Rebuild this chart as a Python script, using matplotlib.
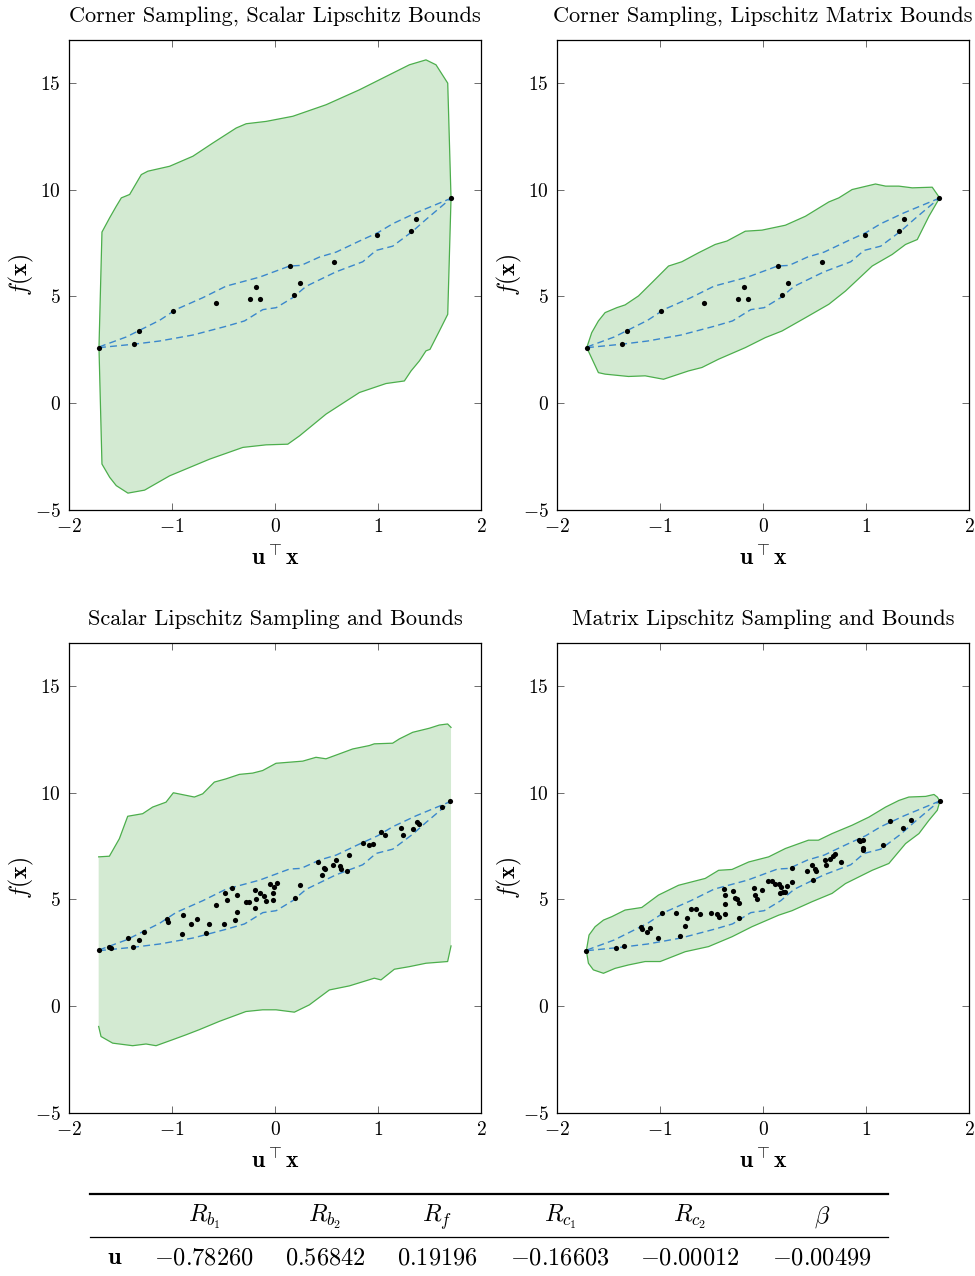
import matplotlib
matplotlib.use("Agg")
import matplotlib.pyplot as plt
import numpy as np

plt.rcParams['font.family'] = ['cmr10', 'DejaVu Serif']
plt.rcParams['mathtext.fontset'] = 'cm'
plt.rcParams['axes.formatter.use_mathtext'] = True

# corner samples (shared by both top panels)
corner_x = [-1.709, -1.373, -1.324, -0.991, -0.571, -0.241, -0.186, -0.144,
            0.141, 0.186, 0.238, 0.571, 0.991, 1.321, 1.373, 1.709]
corner_y = [2.60, 2.76, 3.36, 4.33, 4.70, 4.86, 5.45, 4.89,
            6.42, 5.05, 5.64, 6.60, 7.88, 8.04, 8.63, 9.59]

# true function envelope (dashed)
env_up_x = [-1.709, -1.444, -1.120, -0.959, -0.700, -0.474, -0.150, 0.141, 0.254,
            0.432, 0.593, 0.820, 0.998, 1.143, 1.369, 1.709]
env_up_y = [2.63, 3.10, 3.88, 4.39, 4.94, 5.48, 5.90, 6.42, 6.45,
            6.84, 7.07, 7.59, 7.98, 8.40, 8.91, 9.59]
env_lo_x = [-1.709, -1.373, -1.120, -0.797, -0.474, -0.296, -0.118, 0.011, 0.173,
            0.302, 0.593, 0.852, 0.981, 1.143, 1.337, 1.466, 1.709]
env_lo_y = [2.60, 2.76, 2.91, 3.19, 3.60, 3.85, 4.38, 4.47, 4.94,
            5.47, 6.15, 6.62, 7.15, 7.35, 8.05, 8.60, 9.59]

# panel 1: corner sampling, scalar Lipschitz bounds
p1_up_x = [-1.709, -1.680, -1.605, -1.541, -1.492, -1.411, -1.298, -1.234, -1.023, -0.797,
           -0.603, -0.377, -0.280, -0.086, 0.173, 0.496, 0.820, 1.143, 1.305, 1.466,
           1.563, 1.677, 1.709]
p1_up_y = [2.60, 8.01, 8.68, 9.22, 9.61, 9.77, 10.70, 10.86, 11.09, 11.56,
           12.18, 12.88, 13.08, 13.19, 13.43, 13.97, 14.67, 15.45, 15.84, 16.07,
           15.84, 14.98, 9.59]
p1_lo_x = [-1.709, -1.680, -1.605, -1.541, -1.428, -1.266, -1.023, -0.635, -0.312, -0.086,
           0.124, 0.238, 0.496, 0.820, 1.078, 1.256, 1.321, 1.402, 1.466, 1.505,
           1.596, 1.677, 1.709]
p1_lo_y = [2.60, -2.85, -3.47, -3.86, -4.21, -4.07, -3.40, -2.62, -2.07, -1.95,
           -1.92, -1.53, -0.51, 0.50, 0.92, 1.04, 1.51, 1.98, 2.45, 2.52,
           3.38, 4.16, 9.59]

# panel 2: corner sampling, Lipschitz matrix bounds
p2_up_x = [-1.711, -1.663, -1.598, -1.533, -1.420, -1.339, -1.209, -1.079, -0.917, -0.788,
           -0.626, -0.464, -0.350, -0.172, -0.010, 0.217, 0.412, 0.639, 0.736, 0.865,
           1.092, 1.190, 1.319, 1.449, 1.643, 1.715]
p2_up_y = [2.60, 3.30, 3.85, 4.24, 4.47, 4.60, 5.02, 5.64, 6.42, 6.62,
           7.04, 7.43, 7.59, 8.05, 8.10, 8.33, 8.75, 9.42, 9.61, 10.00,
           10.26, 10.16, 10.16, 10.08, 10.11, 9.61]
p2_lo_x = [-1.711, -1.598, -1.533, -1.306, -1.144, -0.966, -0.723, -0.593, -0.431, -0.172,
           0.023, 0.185, 0.412, 0.639, 0.801, 1.060, 1.254, 1.384, 1.498, 1.611, 1.715]
p2_lo_y = [2.60, 1.43, 1.36, 1.25, 1.28, 1.12, 1.51, 1.67, 2.06, 2.60,
           3.07, 3.38, 4.00, 4.63, 5.25, 6.42, 6.96, 7.43, 7.66, 8.75, 9.61]

# panel 3: scalar Lipschitz sampling
s3_x = [-1.706, -1.608, -1.592, -1.424, -1.382, -1.317, -1.269, -1.052, -1.042, -0.890,
        -0.903, -0.816, -0.757, -0.670, -0.644, -0.573, -0.498, -0.485, -0.469, -0.421,
        -0.372, -0.385, -0.369, -0.282, -0.249, -0.194, -0.191, -0.184, -0.142, -0.104,
        -0.087, -0.049, -0.023, -0.016, -0.006, 0.016, 0.191, 0.243, 0.414, 0.456,
        0.472, 0.489, 0.566, 0.592, 0.631, 0.644, 0.702, 0.715, 0.851, 0.916,
        0.948, 1.029, 1.071, 1.223, 1.239, 1.343, 1.379, 1.401, 1.621, 1.702]
s3_y = [2.63, 2.79, 2.71, 3.17, 2.79, 3.10, 3.49, 4.06, 3.95, 4.26,
        3.36, 3.83, 4.08, 3.44, 3.86, 4.72, 3.86, 5.28, 4.96, 5.51,
        5.20, 4.03, 4.42, 4.89, 4.89, 5.46, 4.61, 5.00, 5.28, 5.15,
        4.92, 5.71, 4.96, 5.28, 5.56, 5.77, 5.07, 5.66, 6.75, 6.16,
        6.47, 6.40, 6.60, 6.86, 6.58, 6.40, 6.33, 7.10, 7.66, 7.53,
        7.61, 8.15, 8.00, 8.36, 8.00, 8.29, 8.62, 8.51, 9.32, 9.60]
p3_up_x = [-1.712, -1.608, -1.511, -1.430, -1.285, -1.188, -1.058, -0.987, -0.783, -0.702,
           -0.589, -0.476, -0.346, -0.217, -0.120, 0.010, 0.269, 0.398, 0.495, 0.625,
           0.754, 0.916, 0.964, 1.142, 1.207, 1.337, 1.498, 1.595, 1.676, 1.709]
p3_up_y = [6.99, 7.02, 7.84, 8.89, 9.01, 9.32, 9.55, 9.99, 9.79, 9.94,
           10.49, 10.64, 10.85, 10.91, 11.03, 11.37, 11.47, 11.65, 11.58, 11.81,
           12.04, 12.20, 12.28, 12.31, 12.51, 12.82, 13.01, 13.16, 13.21, 13.05]
p3_lo_x = [-1.712, -1.689, -1.576, -1.382, -1.252, -1.155, -0.994, -0.864, -0.735, -0.540,
           -0.282, -0.120, 0.010, 0.188, 0.333, 0.528, 0.722, 0.964, 1.029, 1.159,
           1.304, 1.466, 1.676, 1.709]
p3_lo_y = [-0.95, -1.42, -1.73, -1.85, -1.77, -1.85, -1.57, -1.34, -1.10, -0.71,
           -0.25, -0.17, -0.17, -0.28, 0.06, 0.76, 0.95, 1.31, 1.23, 1.73,
           1.85, 2.01, 2.09, 2.82]

# panel 4: matrix Lipschitz sampling
s4_x = [-1.715, -1.429, -1.345, -1.186, -1.177, -1.128, -1.096, -1.015, -0.976, -0.840,
        -0.807, -0.755, -0.739, -0.697, -0.648, -0.609, -0.509, -0.447, -0.431, -0.379,
        -0.366, -0.373, -0.366, -0.292, -0.276, -0.253, -0.237, -0.237, -0.084, -0.075,
        -0.055, -0.013, 0.049, 0.088, 0.120, 0.152, 0.178, 0.169, 0.191, 0.211,
        0.237, 0.282, 0.282, 0.428, 0.476, 0.483, 0.502, 0.515, 0.600, 0.613,
        0.655, 0.677, 0.697, 0.762, 0.930, 0.940, 0.969, 0.969, 0.972, 1.164,
        1.232, 1.361, 1.436, 1.718]
s4_y = [2.60, 2.74, 2.83, 3.72, 3.59, 3.49, 3.67, 3.21, 4.37, 4.37,
        3.28, 3.75, 4.11, 4.54, 4.54, 4.30, 4.37, 4.30, 4.16, 5.48,
        5.20, 4.78, 4.30, 5.38, 5.07, 5.04, 4.81, 4.14, 5.51, 5.20,
        5.04, 5.43, 5.85, 5.85, 5.71, 5.74, 5.59, 5.28, 5.35, 5.35,
        5.62, 5.82, 6.49, 6.32, 6.60, 5.90, 6.44, 6.32, 6.83, 6.60,
        6.91, 7.02, 7.14, 6.77, 7.80, 7.73, 7.80, 7.41, 7.33, 7.53,
        8.67, 8.36, 8.73, 9.60]
p4_up_x = [-1.715, -1.689, -1.630, -1.549, -1.468, -1.339, -1.177, -1.015, -0.820, -0.561,
           -0.431, -0.301, -0.139, 0.055, 0.217, 0.441, 0.538, 0.671, 0.865, 1.028,
           1.190, 1.319, 1.416, 1.579, 1.660, 1.692, 1.718]
p4_up_y = [2.60, 3.33, 3.72, 4.03, 4.19, 4.50, 4.62, 5.20, 5.66, 5.98,
           6.36, 6.40, 6.75, 6.99, 7.38, 7.77, 7.77, 8.08, 8.47, 8.85,
           9.32, 9.63, 9.79, 9.82, 9.91, 9.79, 9.60]
p4_lo_x = [-1.715, -1.695, -1.647, -1.549, -1.436, -1.306, -1.144, -0.998, -0.755, -0.528,
           -0.301, -0.107, 0.152, 0.282, 0.476, 0.671, 0.801, 1.060, 1.222, 1.384,
           1.514, 1.611, 1.692, 1.718]
p4_lo_y = [2.60, 2.01, 1.70, 1.54, 1.77, 1.93, 2.09, 2.09, 2.55, 2.79,
           3.25, 3.72, 4.26, 4.47, 4.89, 5.28, 5.74, 6.36, 6.68, 7.61,
           8.08, 8.70, 9.17, 9.60]

titles = ["Corner Sampling, Scalar Lipschitz Bounds",
          "Corner Sampling, Lipschitz Matrix Bounds",
          "Scalar Lipschitz Sampling and Bounds",
          "Matrix Lipschitz Sampling and Bounds"]

col_labels = [r"$R_{b_1}$", r"$R_{b_2}$", r"$R_f$", r"$R_{c_1}$", r"$R_{c_2}$", r"$\beta$"]
u_values = [-0.78260, 0.56842, 0.19196, -0.16603, -0.00012, -0.00499]

panels = [
    (p1_up_x, p1_up_y, p1_lo_x, p1_lo_y, corner_x, corner_y),
    (p2_up_x, p2_up_y, p2_lo_x, p2_lo_y, corner_x, corner_y),
    (p3_up_x, p3_up_y, p3_lo_x, p3_lo_y, s3_x, s3_y),
    (p4_up_x, p4_up_y, p4_lo_x, p4_lo_y, s4_x, s4_y),
]

W, H = 975, 1276
fig = plt.figure(figsize=(W / 100, H / 100), dpi=100)

boxes = [(69, 40), (557, 40), (69, 643), (557, 643)]
aw, ah = 412, 470

green_fill = "#d3ead2"
green_edge = "#4cae4c"
blue = "#3a87cc"

for (l, t), title, (ux, uy, lx, ly, sx, sy) in zip(boxes, titles, panels):
    ax = fig.add_axes([l / W, 1 - (t + ah) / H, aw / W, ah / H])
    px = np.concatenate([ux, lx[::-1]])
    py = np.concatenate([uy, ly[::-1]])
    ax.fill(px, py, color=green_fill, lw=0, zorder=1)
    ax.plot(ux, uy, color=green_edge, lw=0.9, zorder=2)
    ax.plot(lx, ly, color=green_edge, lw=0.9, zorder=2)
    ax.plot(env_up_x, env_up_y, color=blue, lw=1.0, ls=(0, (5, 3)), zorder=3)
    ax.plot(env_lo_x, env_lo_y, color=blue, lw=1.0, ls=(0, (5, 3)), zorder=3)
    ax.scatter(sx, sy, s=14, color="black", zorder=4, linewidths=0)
    ax.set_xlim(-2, 2)
    ax.set_ylim(-5, 17)
    ax.set_xticks([-2, -1, 0, 1, 2])
    ax.set_yticks([-5, 0, 5, 10, 15])
    ax.tick_params(direction="in", top=True, right=True, length=5, width=0.6,
                   color="#555555", labelsize=14, pad=6)
    for sp in ax.spines.values():
        sp.set_linewidth(0.9)
    ax.set_title(title, fontsize=16, pad=13)
    ax.set_xlabel(r"$\mathbf{u}^{\top}\mathbf{x}$", fontsize=17, labelpad=7)
    ax.set_ylabel(r"$f(\mathbf{x})$", fontsize=17, labelpad=-1)

# table under the plots
def fy(p):
    return 1 - p / H

fig.add_artist(plt.Line2D([90 / W, 888 / W], [fy(1194), fy(1194)], color="black", lw=1.6))
fig.add_artist(plt.Line2D([90 / W, 888 / W], [fy(1237), fy(1237)], color="black", lw=0.9))
col_x = [204, 325, 437, 560, 690, 822]
for cx, lab, v in zip(col_x, col_labels, u_values):
    fig.text(cx / W, fy(1217), lab, ha="center", va="center", fontsize=17.5)
    fig.text(cx / W, fy(1258), "$%.5f$" % v, ha="center", va="center", fontsize=17.5)
fig.text(115 / W, fy(1258), r"$\mathbf{u}$", ha="center", va="center", fontsize=17.5)

fig.savefig("out.png", dpi=100)
